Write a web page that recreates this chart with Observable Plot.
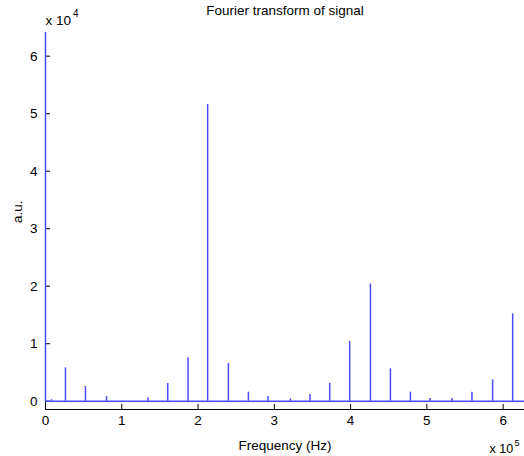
<!DOCTYPE html>
<html>
<head>
<meta charset="utf-8">
<script src="https://cdn.jsdelivr.net/npm/d3@7"></script>
<script src="https://cdn.jsdelivr.net/npm/@observablehq/plot@0.6"></script>
<style>
  html, body { margin: 0; padding: 0; background: #fff; }
  #chart svg { display: block; }
</style>
</head>
<body>
<div id="chart"></div>
<script>
// Peak frequencies (Hz) and amplitudes (a.u.)
const freqs = [0, 7900, 26200, 52400, 80000, 134500, 160300, 186900, 212600, 239800, 266000,
  291700, 321100, 346800, 372600, 398800, 426000, 452200, 478400, 504100, 532900, 559100, 586200, 612500];
const amps = [64120, 250, 5800, 2560, 800, 600, 3100, 7550, 51600, 6560, 1570,
  800, 400, 1170, 3100, 10400, 20400, 5630, 1570, 470, 470, 1570, 3700, 15200];
const xTicks = [0, 100000, 200000, 300000, 400000, 500000, 600000];
const yTicks = [0, 10000, 20000, 30000, 40000, 50000, 60000];
const titleText = "Fourier transform of signal";
const xLabel = "Frequency (Hz)";
const yLabel = "a.u.";
const xExp = "5";
const yExp = "4";

const peaks = freqs.map((f, i) => ({f, a: amps[i]}));

const W = 524, H = 456;
const mL = 45, mR = 0, mT = 32, mB = 47;
const plotW = W - mL - mR, plotH = H - mT - mB;
const font = "'Liberation Sans', Arial, Helvetica, sans-serif";
const blue = "#4a4aff";

const chart = Plot.plot({
  width: W,
  height: H,
  marginLeft: mL,
  marginRight: mR,
  marginTop: mT,
  marginBottom: mB,
  style: {fontFamily: font, fontSize: "13.5px", color: "#000", background: "#fff"},
  x: {domain: [0, 628000]},
  y: {domain: [-1440, 64120]},
  marks: [
    // axis tick labels
    Plot.axisX({ticks: xTicks, tickSize: 0, tickPadding: 6, tickFormat: d => String(d / 1e5), label: null, fontSize: 13.5}),
    Plot.axisY({ticks: yTicks, tickSize: 0, tickPadding: 8, tickFormat: d => String(d / 1e4), label: null, fontSize: 13.5}),
    // axis lines
    Plot.ruleY([-1440], {stroke: "#000", strokeWidth: 1}),
    Plot.ruleX([0], {stroke: "#000", strokeWidth: 1}),
    // inward ticks
    Plot.ruleX(xTicks, {x: d => d, stroke: "#000", insetTop: plotH - 5}),
    Plot.ruleY(yTicks, {y: d => d, stroke: "#000", insetRight: plotW - 5}),
    // spectrum: baseline and peaks
    Plot.ruleY([0], {stroke: blue, strokeWidth: 1.5}),
    Plot.ruleX(peaks, {x: "f", y1: 0, y2: "a", stroke: blue, strokeWidth: 1.5}),
    // texts
    Plot.text([titleText], {text: d => d, frameAnchor: "top", lineAnchor: "middle", dy: -22, fontSize: 13.5}),
    Plot.text([xLabel], {text: d => d, frameAnchor: "bottom", lineAnchor: "middle", dy: 36, fontSize: 13.5}),
    Plot.text([yLabel], {text: d => d, frameAnchor: "left", lineAnchor: "middle", rotate: -90, dx: -28, dy: 2, fontSize: 13.5}),
    Plot.text(["x 10"], {text: d => d, frameAnchor: "top-left", textAnchor: "start", lineAnchor: "middle", dx: 0, dy: -12, fontSize: 13.5}),
    Plot.text([yExp], {text: d => d, frameAnchor: "top-left", textAnchor: "start", lineAnchor: "middle", dx: 27.5, dy: -18.5, fontSize: 10}),
    Plot.text(["x 10"], {text: d => d, frameAnchor: "bottom-right", textAnchor: "start", lineAnchor: "middle", dx: -35, dy: 39.5, fontSize: 12.5}),
    Plot.text([xExp], {text: d => d, frameAnchor: "bottom-right", textAnchor: "start", lineAnchor: "middle", dx: -10, dy: 34, fontSize: 9})
  ]
});

document.getElementById("chart").appendChild(chart);
</script>
</body>
</html>
